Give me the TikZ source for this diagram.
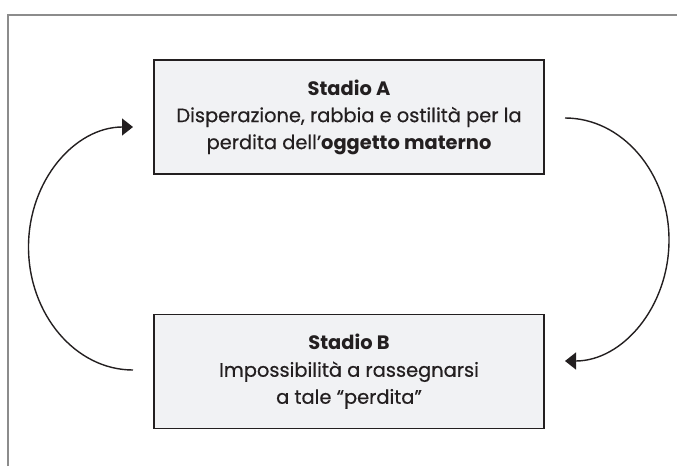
\documentclass[tikz,border=0pt]{standalone}
\usepackage{fontspec}
\setmainfont{Poppins}[UprightFeatures={FakeBold=0.5}]
\usetikzlibrary{arrows.meta}
\definecolor{framegray}{HTML}{8C8C8C}
\definecolor{boxfill}{HTML}{F1F2F4}
\definecolor{inkdark}{HTML}{231F20}
\begin{document}
\begin{tikzpicture}[x=1pt,y=-1pt,
  stadio/.style={draw=inkdark, line width=1.6pt, fill=boxfill, text=inkdark,
    minimum width=390pt, minimum height=114pt, align=center,
    font=\fontsize{19.4}{27}\selectfont},
  ciclo/.style={draw=inkdark, line width=1.4pt, -{Triangle[length=11pt,width=17pt]}}]
\useasboundingbox (0,0) rectangle (677,466);
\draw[framegray, line width=2.2pt] (8,466) -- (8,15) -- (677,15);

\node[stadio] (stadioA) at (349,117) {\textbf{Stadio A}\\Disperazione, rabbia e ostilità per la\\perdita dell’\textbf{oggetto materno}};
\node[stadio] (stadioB) at (349,371.5) {\textbf{Stadio B}\\Impossibilità a rassegnarsi\\a tale “perdita”};

\coordinate (aout) at (565,118);
\coordinate (bin) at (565,361);
\coordinate (bout) at (133,370);
\coordinate (ain) at (133,127);
\draw[ciclo](aout) .. controls (622.4,118) and (669,173) .. (669,240) .. controls (669,307) and (622.4,361) .. (bin);
\draw[ciclo](bout) .. controls (75.3,370) and (28.5,314) .. (28.5,247) .. controls (28.5,180) and (75.3,127) .. (ain);

\end{tikzpicture}
\end{document}
